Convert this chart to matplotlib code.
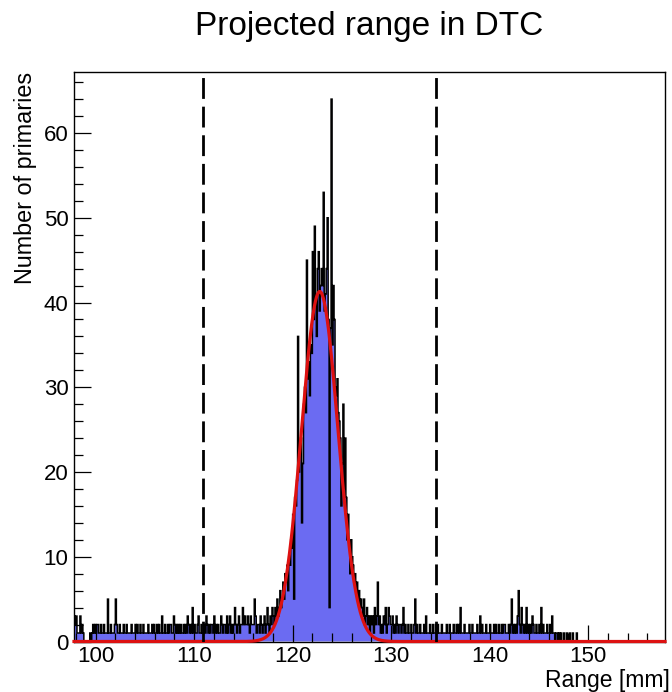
import numpy as np
import matplotlib
matplotlib.use("Agg")
import matplotlib.pyplot as plt
from matplotlib.ticker import MultipleLocator

plt.rcParams['font.family'] = ['Liberation Sans', 'DejaVu Sans']

# histogram: 0.1 mm bins starting at 97.8 mm
x_lo = 97.8
bin_w = 0.1

# 97.8 - 115.9 mm, one digit per bin
left_tail = ("3231113121" "0000001012" "1212211211" "2111511211"
             "1252112111" "2112111121" "1121211211" "2111121112"
             "1211212113" "1121121221" "1321212121" "1212132121"
             "4121123112" "1121321212" "2131212113" "2122131231"
             "2124212312" "2423223213" "22")

# 116.0 - 129.9 mm
peak = [2, 5, 3, 1, 2, 2, 1, 3, 2, 1,
        2, 3, 1, 2, 4, 2, 1, 3, 2, 4,
        3, 2, 4, 3, 5, 3, 4, 6, 4, 5,
        7, 5, 8, 7, 9, 6, 10, 9, 12, 11,
        15, 5, 17, 16, 19, 36, 20, 23, 24, 14,
        21, 28, 30, 27, 45, 31, 33, 29, 35, 34,
        46, 38, 49, 40, 36, 44, 46, 39, 42, 44,
        42, 53, 39, 41, 44, 50, 38, 4, 37, 64,
        35, 42, 38, 30, 29, 31, 27, 26, 24, 16,
        21, 28, 18, 24, 17, 12, 15, 11, 8, 12,
        10, 9, 7, 8, 6, 7, 5, 6, 4, 5,
        4, 3, 5, 2, 3, 4, 2, 3, 1, 3,
        2, 3, 1, 4, 2, 3, 7, 2, 3, 1,
        2, 1, 3, 2, 4, 1, 2, 4, 3, 2]

# 130.0 - 157.7 mm
right_tail = ("2312132122" "1241211211" "2112512112" "1112131112"
              "1121121211" "1211112112" "1112112121" "4111211112"
              "1121111211" "3121112111" "2111212112" "1121221112"
              "1251212136" "2142121412" "1213211211" "2141211121"
              "1213110110" "1010010010" "0100100010" "0000000000"
              + "0" * 78)

# gaussian fit
fit_amp = 41.3
fit_mean = 122.75
fit_sigma = 1.85

# dashed range cuts
cut_lo = 110.9
cut_hi = 134.6

counts = np.array([int(c) for c in left_tail] + peak + [int(c) for c in right_tail])
edges = x_lo + bin_w * np.arange(len(counts) + 1)

fig = plt.figure(figsize=(6.72, 6.92), dpi=100)
ax = fig.add_axes([74 / 672, 1 - 641.5 / 692, 591 / 672, 569.5 / 692])

ax.stairs(counts, edges, fill=True, facecolor='#6b6bf2', edgecolor='none')
ax.stairs(counts, edges, color='black', lw=1.1)

xf = np.linspace(edges[0], edges[-1], 1200)
ax.plot(xf, fit_amp * np.exp(-0.5 * ((xf - fit_mean) / fit_sigma) ** 2),
        color='#dd1111', lw=2.3, clip_on=False, zorder=4)

for xc in (cut_lo, cut_hi):
    ax.axvline(xc, color='black', lw=2, linestyle=(0, (7.5, 2.8)), zorder=5)

ax.set_xlim(edges[0], edges[-1])
ax.set_ylim(0, 67.2)
ax.set_xticks(range(100, 151, 10))
ax.xaxis.set_minor_locator(MultipleLocator(2))
ax.yaxis.set_major_locator(MultipleLocator(10))
ax.yaxis.set_minor_locator(MultipleLocator(2))
ax.tick_params(which='both', direction='in', top=False, right=False,
               labelsize=16, width=0.9)
ax.tick_params(which='major', length=12.5)
ax.tick_params(which='minor', length=6.5)
ax.tick_params(axis='x', pad=3.5)
ax.tick_params(axis='y', pad=4)
for s in ax.spines.values():
    s.set_linewidth(1.0)

fig.text(369 / 672, 1 - 27 / 692, "Projected range in DTC", fontsize=24,
         ha='center', va='center')
fig.text(670 / 672, 1 - 669 / 692, "Range [mm]", fontsize=16.5,
         ha='right', va='top')
fig.text(37 / 672, 1 - 72 / 692, "Number of primaries", fontsize=16.8,
         rotation=90, ha='right', va='top')

fig.savefig("out.png", dpi=100)
